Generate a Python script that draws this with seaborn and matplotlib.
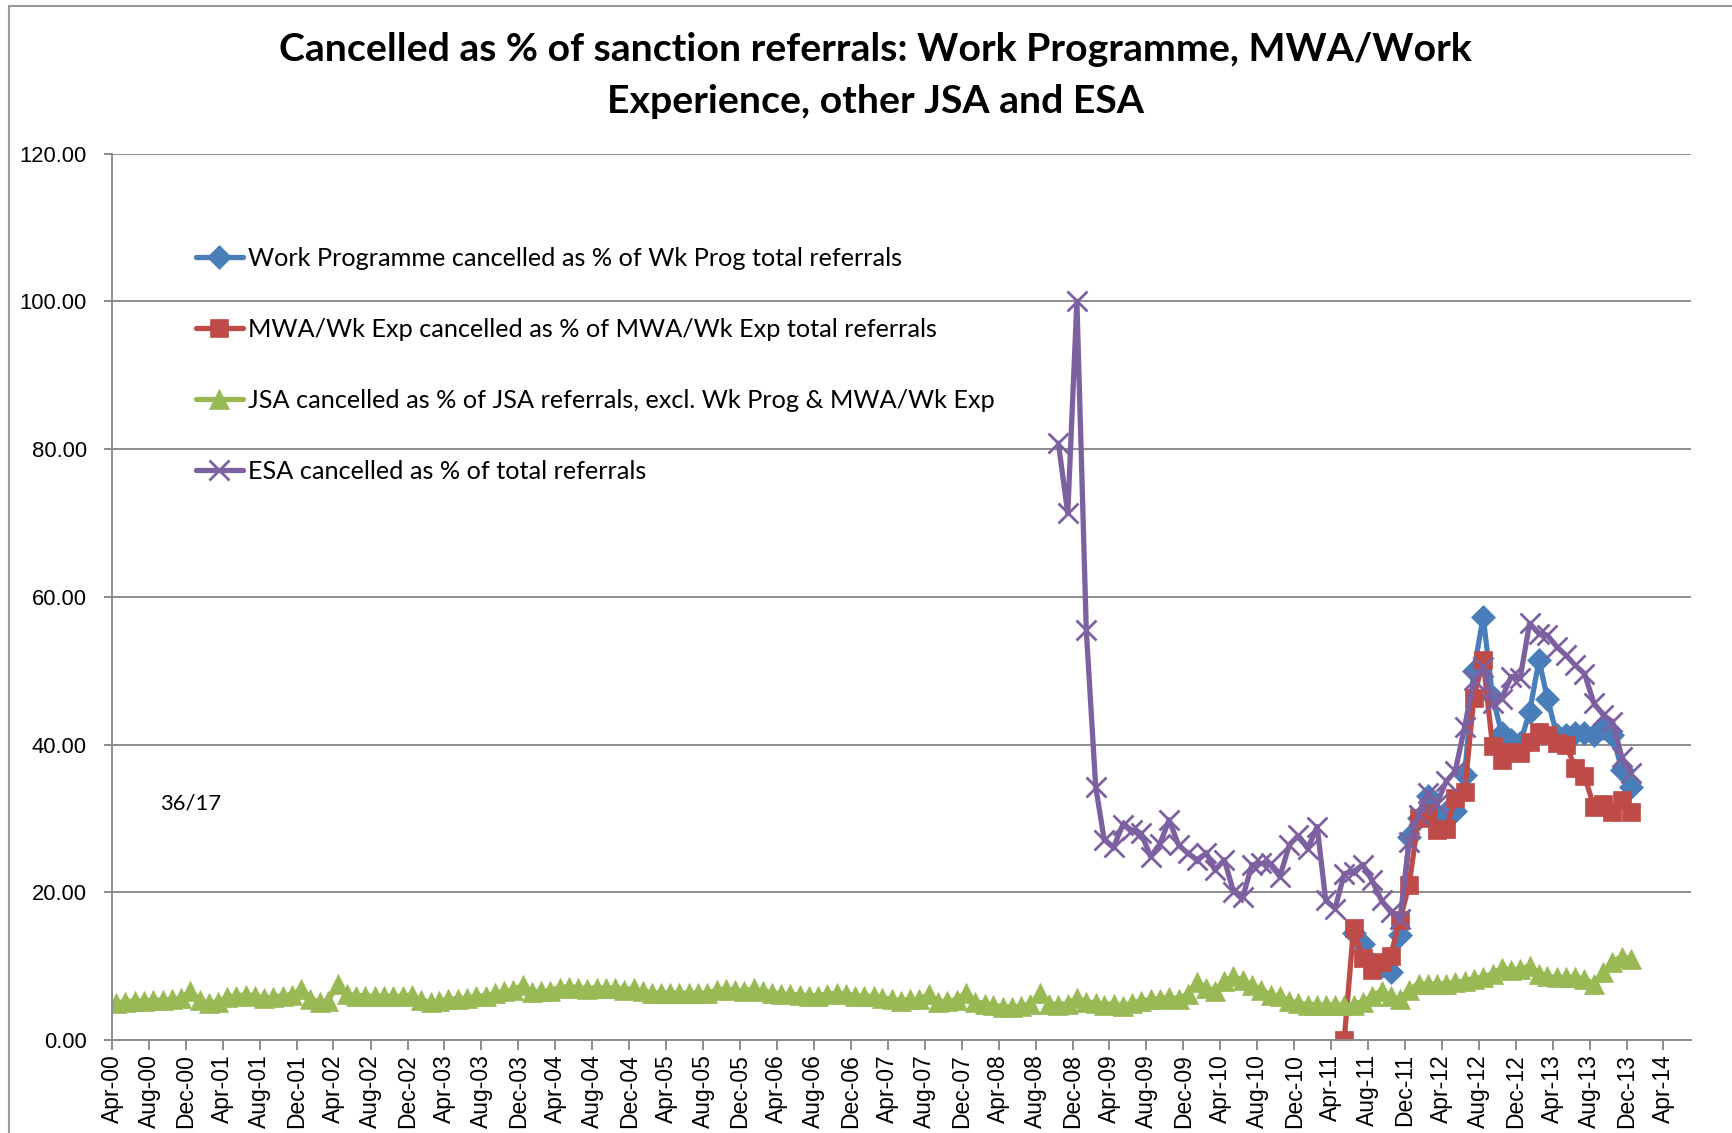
import numpy as np
import pandas as pd
import matplotlib
matplotlib.use("Agg")
import matplotlib.pyplot as plt
import matplotlib.dates as mdates
from matplotlib.lines import Line2D
import seaborn as sns

# ---------------- data ----------------
TITLE_1 = "Cancelled as % of sanction referrals: Work Programme, MWA/Work"
TITLE_2 = "Experience, other JSA and ESA"
NOTE = "36/17"

WP_LABEL = "Work Programme cancelled as % of Wk Prog total referrals"
MWA_LABEL = "MWA/Wk Exp cancelled as % of MWA/Wk Exp total referrals"
JSA_LABEL = "JSA cancelled as % of JSA referrals, excl. Wk Prog & MWA/Wk Exp"
ESA_LABEL = "ESA cancelled as % of total referrals"

# first month of each series
JSA_START = "2000-04"
ESA_START = "2008-10"
MWA_START = "2011-05"
WP_START = "2011-06"

jsa_values = [
    5.0, 5.2, 5.3, 5.3, 5.4, 5.4, 5.5, 5.7, 6.6, 5.4, 5.0, 5.2,
    5.8, 6.0, 6.1, 6.0, 5.7, 5.8, 6.0, 6.1, 6.9, 5.6, 5.1, 5.3,
    7.6, 6.2, 6.0, 6.0, 5.9, 6.0, 5.9, 5.9, 6.1, 5.4, 5.1, 5.3,
    5.5, 5.6, 5.7, 5.9, 6.0, 6.3, 6.6, 6.8, 7.4, 6.5, 6.6, 6.7,
    7.1, 7.2, 7.1, 6.9, 7.1, 7.0, 7.1, 6.8, 7.0, 6.6, 6.4, 6.4,
    6.4, 6.4, 6.3, 6.4, 6.3, 6.8, 6.9, 6.8, 6.6, 7.0, 6.6, 6.4,
    6.2, 6.2, 6.1, 6.0, 6.0, 6.2, 6.3, 6.2, 6.0, 5.9, 5.9, 5.7,
    5.5, 5.3, 5.5, 5.5, 6.2, 5.1, 5.3, 5.4, 6.4, 5.2, 4.9, 4.7,
    4.5, 4.4, 4.6, 4.9, 6.3, 4.9, 4.8, 4.9, 5.7, 5.2, 5.0, 4.8,
    4.9, 4.6, 5.0, 5.3, 5.5, 5.6, 5.8, 5.6, 6.2, 7.8, 7.1, 6.7,
    8.0, 8.6, 8.1, 7.4, 6.8, 6.1, 5.9, 5.3, 5.0, 4.8, 4.8, 4.7,
    4.8, 4.7, 4.8, 5.2, 5.9, 6.7, 6.0, 5.5, 6.8, 7.6, 7.6, 7.6,
    7.6, 7.8, 8.0, 8.3, 8.5, 9.0, 9.7, 9.5, 9.6, 10.0, 9.0, 8.6,
    8.5, 8.5, 8.5, 8.3, 7.6, 9.2, 10.6, 11.3, 11.0,
]

esa_values = [
    80.8, 71.3, 100.0, 55.5, 34.3, 27.1, 26.1, 29.1, 28.4, 28.0, 24.8, 26.6,
    29.8, 26.4, 25.3, 24.4, 25.3, 23.0, 24.4, 20.1, 19.4, 23.7, 23.9, 23.9,
    22.1, 26.4, 27.7, 25.9, 28.9, 18.9, 17.8, 22.5, 22.8, 23.7, 21.6, 18.9,
    17.3, 16.4, 26.8, 30.5, 33.4, 32.0, 35.0, 36.4, 42.4, 48.7, 50.5, 45.6,
    46.2, 49.2, 49.0, 56.4, 55.0, 54.8, 53.2, 52.1, 50.7, 49.6, 45.6, 44.0,
    43.1, 38.3, 36.1,
]

mwa_values = [
    0.0, 15.2, 11.1, 9.5, 10.6, 11.4, 16.3, 21.0, 30.1, 30.7, 28.4, 28.6,
    32.7, 33.6, 46.3, 51.4, 39.8, 37.9, 39.0, 38.8, 40.4, 41.7, 41.3, 40.2,
    40.0, 36.8, 35.7, 31.6, 32.0, 30.8, 32.5, 30.8,
]

wp_values = [
    14.5, 13.0, 10.3, 10.0, 9.2, 14.2, 27.5, 30.0, 33.0, 30.5, 30.9, 31.0,
    35.9, 49.9, 57.3, 46.5, 41.5, 40.6, 40.2, 44.4, 51.4, 46.2, 41.3, 41.3,
    41.5, 41.5, 41.3, 42.2, 41.3, 36.6, 34.3,
]

Y_TICKS = [0, 20, 40, 60, 80, 100, 120]

# ---------------- style ----------------
BLUE = "#4A7EBB"
RED = "#BE4B48"
GREEN = "#98B954"
PURPLE = "#7D60A0"
GRID = "#8C8C8C"

W, H = 1733, 1133
DPI = 100

sns.set_theme(style="white")
plt.rcParams["font.family"] = ["Liberation Sans", "DejaVu Sans"]

fig = plt.figure(figsize=(W / DPI, H / DPI), dpi=DPI)
fig.patch.set_facecolor("white")

# axes placement (pixels in the reference)
ax_left, ax_right, ax_top, ax_bottom = 112, 1691, 153.6, 1040
ax = fig.add_axes([ax_left / W, (H - ax_bottom) / H,
                   (ax_right - ax_left) / W, (ax_bottom - ax_top) / H])
ax.set_facecolor("white")


def month_dates(start, n):
    # points sit in the middle of each month
    return pd.date_range(start + "-01", periods=n, freq="MS") + pd.Timedelta(days=14)


series = [
    (WP_START, wp_values, BLUE, "D", 12.5, WP_LABEL),
    (MWA_START, mwa_values, RED, "s", 13.5, MWA_LABEL),
    (JSA_START, jsa_values, GREEN, "^", 15, JSA_LABEL),
    (ESA_START, esa_values, PURPLE, "x", 14, ESA_LABEL),
]

for start, vals, col, mk, ms, lab in series:
    df = pd.DataFrame({"date": month_dates(start, len(vals)), "value": vals})
    kw = dict(marker=mk, markersize=ms, markerfacecolor=col, markeredgecolor=col)
    kw["markeredgewidth"] = 2.0 if mk == "x" else 0.5
    sns.lineplot(data=df, x="date", y="value", ax=ax, color=col, linewidth=3.8,
                 label=lab, estimator=None, sort=False, **kw)

# ---------------- axes ----------------
ax.set_xlim(pd.Timestamp("2000-04-01"), pd.Timestamp("2014-07-01"))
ax.set_ylim(0, 120)
ax.set_yticks(Y_TICKS)
ax.yaxis.set_major_formatter(matplotlib.ticker.FormatStrFormatter("%.2f"))
ax.xaxis.set_major_locator(mdates.MonthLocator(bymonth=[4, 8, 12], bymonthday=1))
ax.xaxis.set_major_formatter(mdates.DateFormatter("%b-%y"))
ax.set_xlabel("")
ax.set_ylabel("")

ax.grid(axis="y", color=GRID, linewidth=1.4)
ax.grid(axis="x", visible=False)
ax.set_axisbelow(True)
for side in ["top", "right"]:
    ax.spines[side].set_visible(False)
for side in ["left", "bottom"]:
    ax.spines[side].set_color(GRID)
    ax.spines[side].set_linewidth(1.4)

ax.tick_params(axis="x", which="major", direction="out", length=7, width=1.4,
               color=GRID, labelsize=16.5, labelcolor="black", rotation=90, pad=3,
               bottom=True)
ax.tick_params(axis="y", which="major", direction="out", length=6, width=1.4,
               color=GRID, labelsize=15.8, labelcolor="black", pad=12, left=True)
for lbl in ax.get_xticklabels():
    lbl.set_rotation(90)

# ---------------- fitting helper ----------------
renderer = fig.canvas.get_renderer()


def fit_size(text, target_px, family, weight="normal", base=20.0):
    t = fig.text(0, 0, text, fontsize=base, family=family, weight=weight)
    w = t.get_window_extent(renderer).width
    t.remove()
    return base * target_px / w


CAL = ["Lato", "DejaVu Sans"]

# ---------------- title ----------------
tsize = fit_size(TITLE_1, 1193, CAL, "bold")
fig.text(875.6 / W, 1 - 49.7 / H, TITLE_1, ha="center", va="center",
         fontsize=tsize, family=CAL, weight="bold", color="black")
fig.text(875.6 / W, 1 - 101.7 / H, TITLE_2, ha="center", va="center",
         fontsize=tsize, family=CAL, weight="bold", color="black")

# ---------------- legend ----------------
lsize = fit_size(JSA_LABEL, 748, CAL)
handles, labels = ax.get_legend_handles_labels()
leg = ax.legend(handles, labels, loc="upper left",
                bbox_to_anchor=(84 / (ax_right - ax_left), 1 - 93 / (ax_bottom - ax_top)),
                frameon=False, borderpad=0, borderaxespad=0,
                handlelength=1.85, handletextpad=0.2, labelspacing=1.9,
                prop={"family": CAL, "size": lsize})
for t in leg.get_texts():
    t.set_color("black")

# ---------------- note ----------------
nsize = fit_size(NOTE, 61, CAL)
ax.text(pd.Timestamp("2000-09-06"), 32.0, NOTE, ha="left", va="center",
        fontsize=nsize, family=CAL, color="black")

# ---------------- chart-area border ----------------
fig.add_artist(Line2D([9 / W, 9 / W], [0, 1 - 5.5 / H], transform=fig.transFigure,
                      color="#9A9A9A", linewidth=1.5))
fig.add_artist(Line2D([9 / W, 1.0], [1 - 5.5 / H, 1 - 5.5 / H], transform=fig.transFigure,
                      color="#9A9A9A", linewidth=1.5))

fig.savefig("out.png", dpi=DPI, facecolor="white")
